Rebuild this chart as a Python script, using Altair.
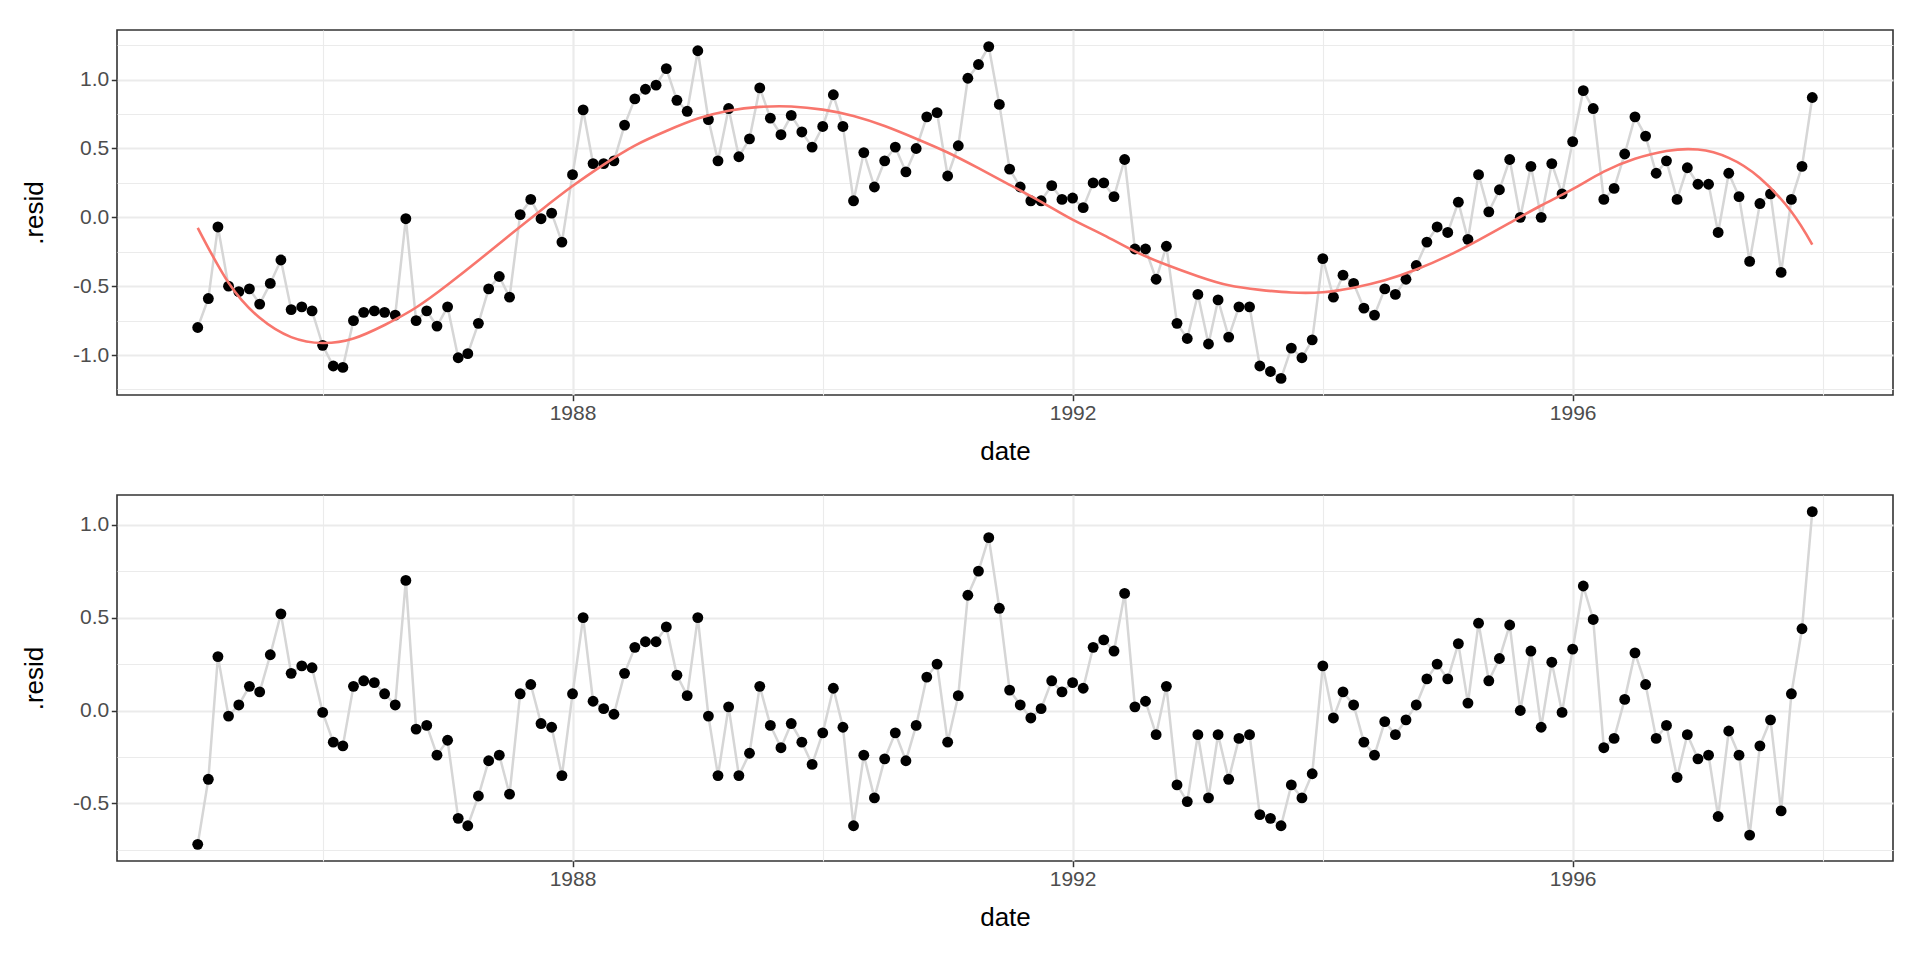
import altair as alt
import pandas as pd

# ---------------- data ----------------
start_month = "1985-01-01"
end_month = "1997-12-01"
months = pd.date_range(start_month, end_month, freq="MS").strftime("%Y-%m-%d").tolist()

resid_top = [
    -0.80, -0.59, -0.07, -0.50, -0.54, -0.52, -0.63, -0.48, -0.31, -0.67, -0.65, -0.68,
    -0.93, -1.08, -1.09, -0.75, -0.69, -0.68, -0.69, -0.71, -0.01, -0.75, -0.68, -0.79,
    -0.65, -1.02, -0.99, -0.77, -0.52, -0.43, -0.58, 0.02, 0.13, -0.01, 0.03, -0.18,
    0.31, 0.78, 0.39, 0.39, 0.41, 0.67, 0.86, 0.93, 0.96, 1.08, 0.85, 0.77,
    1.21, 0.71, 0.41, 0.79, 0.44, 0.57, 0.94, 0.72, 0.60, 0.74, 0.62, 0.51,
    0.66, 0.89, 0.66, 0.12, 0.47, 0.22, 0.41, 0.51, 0.33, 0.50, 0.73, 0.76,
    0.30, 0.52, 1.01, 1.11, 1.24, 0.82, 0.35, 0.22, 0.12, 0.12, 0.23, 0.13,
    0.14, 0.07, 0.25, 0.25, 0.15, 0.42, -0.23, -0.23, -0.45, -0.21, -0.77, -0.88,
    -0.56, -0.92, -0.60, -0.87, -0.65, -0.65, -1.08, -1.12, -1.17, -0.95, -1.02, -0.89,
    -0.30, -0.58, -0.42, -0.48, -0.66, -0.71, -0.52, -0.56, -0.45, -0.35, -0.18, -0.07,
    -0.11, 0.11, -0.16, 0.31, 0.04, 0.20, 0.42, 0.00, 0.37, 0.00, 0.39, 0.17,
    0.55, 0.92, 0.79, 0.13, 0.21, 0.46, 0.73, 0.59, 0.32, 0.41, 0.13, 0.36,
    0.24, 0.24, -0.11, 0.32, 0.15, -0.32, 0.10, 0.17, -0.40, 0.13, 0.37, 0.87,
]

resid_bottom = [
    -0.72, -0.37, 0.29, -0.03, 0.03, 0.13, 0.10, 0.30, 0.52, 0.20, 0.24, 0.23,
    -0.01, -0.17, -0.19, 0.13, 0.16, 0.15, 0.09, 0.03, 0.70, -0.10, -0.08, -0.24,
    -0.16, -0.58, -0.62, -0.46, -0.27, -0.24, -0.45, 0.09, 0.14, -0.07, -0.09, -0.35,
    0.09, 0.50, 0.05, 0.01, -0.02, 0.20, 0.34, 0.37, 0.37, 0.45, 0.19, 0.08,
    0.50, -0.03, -0.35, 0.02, -0.35, -0.23, 0.13, -0.08, -0.20, -0.07, -0.17, -0.29,
    -0.12, 0.12, -0.09, -0.62, -0.24, -0.47, -0.26, -0.12, -0.27, -0.08, 0.18, 0.25,
    -0.17, 0.08, 0.62, 0.75, 0.93, 0.55, 0.11, 0.03, -0.04, 0.01, 0.16, 0.10,
    0.15, 0.12, 0.34, 0.38, 0.32, 0.63, 0.02, 0.05, -0.13, 0.13, -0.40, -0.49,
    -0.13, -0.47, -0.13, -0.37, -0.15, -0.13, -0.56, -0.58, -0.62, -0.40, -0.47, -0.34,
    0.24, -0.04, 0.10, 0.03, -0.17, -0.24, -0.06, -0.13, -0.05, 0.03, 0.17, 0.25,
    0.17, 0.36, 0.04, 0.47, 0.16, 0.28, 0.46, 0.00, 0.32, -0.09, 0.26, -0.01,
    0.33, 0.67, 0.49, -0.20, -0.15, 0.06, 0.31, 0.14, -0.15, -0.08, -0.36, -0.13,
    -0.26, -0.24, -0.57, -0.11, -0.24, -0.67, -0.19, -0.05, -0.54, 0.09, 0.44, 1.07,
]

smooth_dates = [
    "1985-01-01", "1985-04-01", "1985-07-01", "1985-10-01",
    "1986-01-01", "1986-04-01", "1986-07-01", "1986-10-01",
    "1987-01-01", "1987-04-01", "1987-07-01", "1987-10-01",
    "1988-01-01", "1988-04-01", "1988-07-01", "1988-10-01",
    "1989-01-01", "1989-04-01", "1989-07-01", "1989-10-01",
    "1990-01-01", "1990-04-01", "1990-07-01", "1990-10-01",
    "1991-01-01", "1991-04-01", "1991-07-01", "1991-10-01",
    "1992-01-01", "1992-04-01", "1992-07-01", "1992-10-01",
    "1993-01-01", "1993-04-01", "1993-07-01", "1993-10-01",
    "1994-01-01", "1994-04-01", "1994-07-01", "1994-10-01",
    "1995-01-01", "1995-04-01", "1995-07-01", "1995-10-01",
    "1996-01-01", "1996-04-01", "1996-07-01", "1996-10-01",
    "1997-01-01", "1997-04-01", "1997-07-01", "1997-10-01", "1997-12-01",
]
smooth_values = [
    -0.076, -0.475, -0.730, -0.870,
    -0.913, -0.880, -0.782, -0.655,
    -0.490, -0.314, -0.130, 0.052,
    0.227, 0.383, 0.521, 0.627,
    0.717, 0.774, 0.802, 0.805,
    0.782, 0.736, 0.663, 0.571,
    0.471, 0.357, 0.236, 0.113,
    -0.017, -0.129, -0.247, -0.345,
    -0.428, -0.494, -0.527, -0.546,
    -0.544, -0.511, -0.457, -0.379,
    -0.280, -0.165, -0.040, 0.086,
    0.205, 0.332, 0.425, 0.482,
    0.492, 0.432, 0.286, 0.040, -0.198,
]

x_grid_years = [1986, 1988, 1990, 1992, 1994, 1996, 1998]
y_grid_top = [-1.25, -1.0, -0.75, -0.5, -0.25, 0.0, 0.25, 0.5, 0.75, 1.0, 1.25]
y_grid_bottom = [-0.75, -0.5, -0.25, 0.0, 0.25, 0.5, 0.75, 1.0]

# ---------------- tables ----------------
df = pd.DataFrame({"date": months, "top": resid_top, "bottom": resid_bottom})
smooth_df = pd.DataFrame({"date": smooth_dates, "fit": smooth_values})


def ms(s):
    return int(pd.Timestamp(s).value // 10**6)


def expand(lo, hi, f=0.05):
    d = (hi - lo) * f
    return [lo - d, hi + d]


x_domain = expand(ms(start_month), ms(end_month))
x_values = [ms(f"{y}-01-01") for y in x_grid_years]

FONT = "Liberation Sans"
LABEL_SIZE = 21
TITLE_SIZE = 26
GRID = "#EBEBEB"

x_major = "utcyear(datum.value) % 4 == 0"
y_major = "abs(datum.value * 2 - round(datum.value * 2)) < 0.001"


def x_axis():
    return alt.Axis(
        values=x_values,
        labelExpr=f"{x_major} ? utcFormat(datum.value, '%Y') : ''",
        grid=True,
        gridColor=GRID,
        gridWidth={"condition": {"test": x_major, "value": 2.2}, "value": 1.1},
        tickOpacity={"condition": {"test": x_major, "value": 1}, "value": 0},
        tickColor="#333333",
        tickSize=5.7,
        tickWidth=1.5,
        domain=False,
        labelFont=FONT,
        labelFontSize=LABEL_SIZE,
        labelColor="#4D4D4D",
        labelPadding=2,
        labelOverlap=False,
        labelFlush=False,
        labelBound=False,
        titleFont=FONT,
        titleFontSize=TITLE_SIZE,
        titleFontWeight="normal",
        titleColor="#000000",
        titlePadding=12,
        minExtent=31,
        maxExtent=31,
    )


def y_axis(vals):
    return alt.Axis(
        values=vals,
        labelExpr=f"{y_major} ? replace(format(datum.value, '.1f'), '\u2212', '-') : ''",
        grid=True,
        gridColor=GRID,
        gridWidth={"condition": {"test": y_major, "value": 2.2}, "value": 1.1},
        tickOpacity={"condition": {"test": y_major, "value": 1}, "value": 0},
        tickColor="#333333",
        tickSize=5.7,
        tickWidth=1.5,
        domain=False,
        labelFont=FONT,
        labelFontSize=LABEL_SIZE,
        labelColor="#4D4D4D",
        labelPadding=2.5,
        labelOverlap=False,
        labelBound=False,
        labelFlush=False,
        titleFont=FONT,
        titleFontSize=TITLE_SIZE,
        titleFontWeight="normal",
        titleColor="#000000",
        titlePadding=15,
        minExtent=55,
        maxExtent=55,
    )


def xenc():
    return alt.X(
        "date:T",
        title="date",
        scale=alt.Scale(type="utc", domain=x_domain, nice=False),
        axis=x_axis(),
    )


def panel(field, grid_vals, height, with_smooth):
    lo, hi = min(df[field]), max(df[field])
    yscale = alt.Scale(domain=expand(lo, hi), nice=False, zero=False)
    base = alt.Chart(df)
    line = base.mark_line(color="#D6D6D6", strokeWidth=2.5).encode(
        x=xenc(),
        y=alt.Y(f"{field}:Q", title=".resid", scale=yscale, axis=y_axis(grid_vals)),
    )
    pts = base.mark_circle(color="#000000", opacity=1, size=118).encode(
        x=xenc(),
        y=alt.Y(f"{field}:Q", title=".resid", scale=yscale, axis=y_axis(grid_vals)),
    )
    layers = [line, pts]
    if with_smooth:
        fit = alt.Chart(smooth_df).mark_line(
            color="#F8766D", strokeWidth=2.6, interpolate="natural"
        ).encode(
            x=xenc(),
            y=alt.Y("fit:Q", title=".resid", scale=yscale, axis=y_axis(grid_vals)),
        )
        layers.append(fit)
    return alt.layer(*layers).properties(width=1776, height=height)


top = panel("top", y_grid_top, 365, True)
bottom = panel("bottom", y_grid_bottom, 366, False)

chart = (
    alt.vconcat(top, bottom, spacing=29)
    .properties(padding={"left": 12, "top": 21, "right": 10, "bottom": 5}, background="white")
    .configure_view(stroke="#333333", strokeWidth=1.6)
)

chart.save("out.html", embed_options={"renderer": "svg", "actions": False})
